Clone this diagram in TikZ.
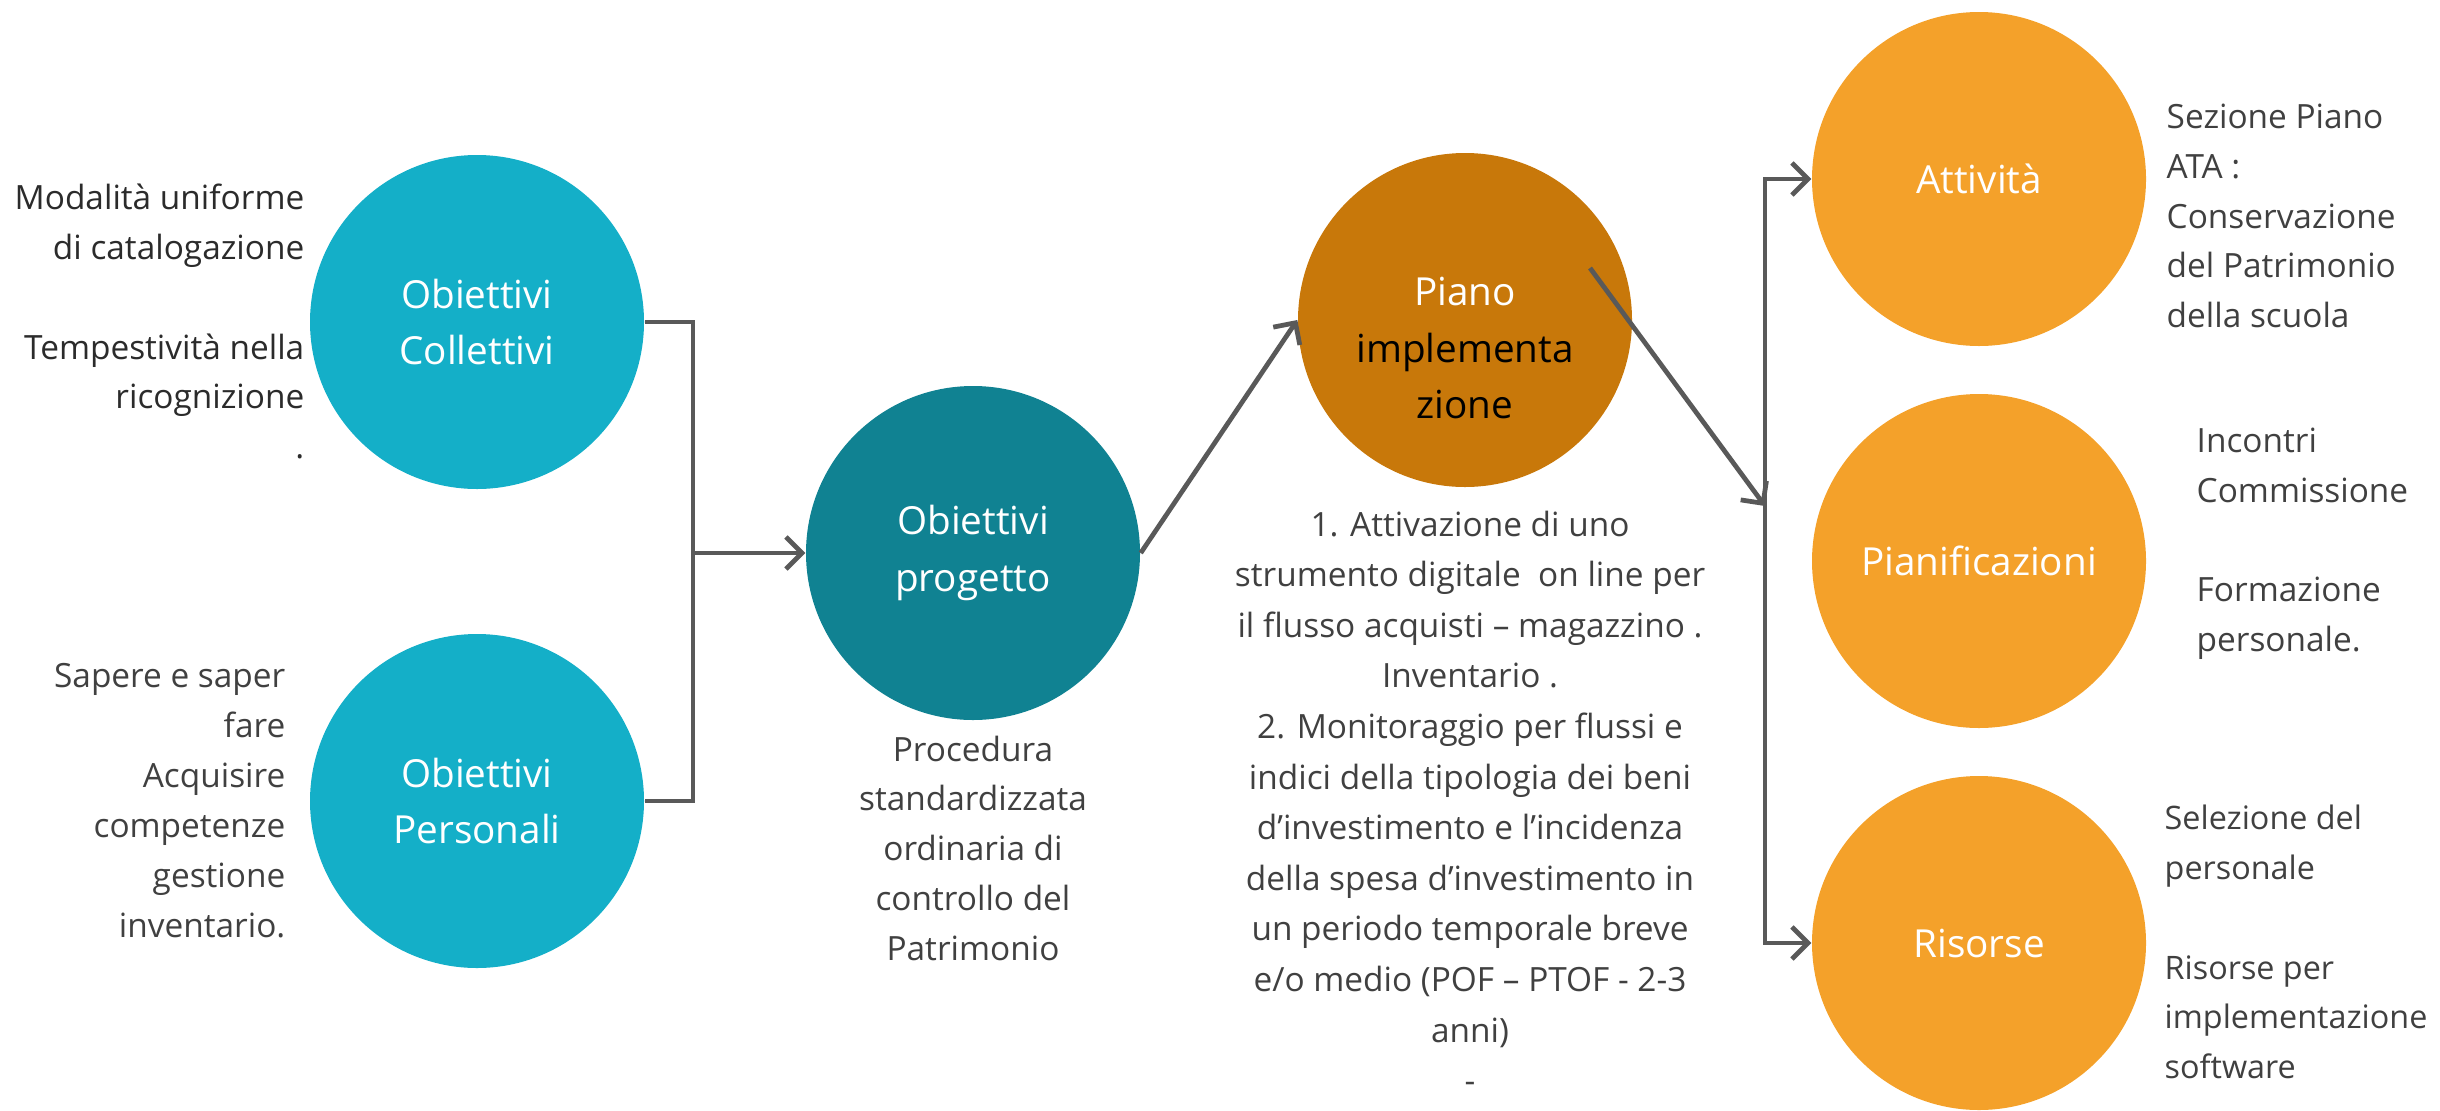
\documentclass[tikz,border=0pt]{standalone}
\usepackage{fontspec}
\setmainfont{Open Sans}
\usepackage{tikz}
\usetikzlibrary{arrows.meta, positioning}

\definecolor{cyanobj}{HTML}{14AFC8}
\definecolor{tealobj}{HTML}{108292}
\definecolor{darkorg}{HTML}{C8780A}
\definecolor{lightorg}{HTML}{F4A12A}
\definecolor{linegray}{HTML}{595959}
\definecolor{txtgray}{HTML}{404040}
\definecolor{txtdark}{HTML}{2B2B2B}

\begin{document}
\begin{tikzpicture}[
    >={Straight Barb[length=1.6mm,width=3.2mm]},
    bubble/.style={circle, minimum size=3.34cm, inner sep=0pt, align=center,
        text=white, font=\fontsize{11}{16.2}\selectfont},
    side/.style={inner sep=0pt, text=txtgray, font=\fontsize{9.5}{14.2}\selectfont},
    link/.style={draw=linegray, line width=1.35pt}
]
    \useasboundingbox (0,0) rectangle (24.4,11.1);

    % Circles
    \node[bubble, fill=cyanobj] (coll) at (4.77,7.88) {Obiettivi\\Collettivi};
    \node[bubble, fill=cyanobj] (pers) at (4.77,3.09) {Obiettivi\\Personali};
    \node[bubble, fill=tealobj] (proj) at (9.73,5.57) {Obiettivi\\progetto};
    \node[bubble, fill=darkorg] (piano) at (14.65,7.90) {};
    \node[inner sep=0pt, align=center, text=black, font=\fontsize{11}{16.2}\selectfont]
        (pianolbl) at ([yshift=-0.28cm]piano.center) {\textcolor{white}{Piano}\\implementa\\zione};
    \node[bubble, fill=lightorg] (att) at (19.79,9.31) {Attività};
    \node[bubble, fill=lightorg] (pian) at (19.79,5.49) {Pianificazioni};
    \node[bubble, fill=lightorg] (ris) at (19.79,1.67) {Risorse};

    % Side texts
    \node[side, text=txtdark, anchor=north east, align=right] (colltxt) at (3.05,9.27)
        {Modalità uniforme\\di catalogazione\\[14.2pt]Tempestività nella\\ricognizione\\.};
    \node[side, anchor=north east, align=right] (perstxt) at (2.86,4.47)
        {Sapere e saper\\fare\\Acquisire\\competenze\\gestione\\inventario.};
    \node[side, anchor=north, align=center] (projtxt) at (9.73,3.75)
        {Procedura\\standardizzata\\ordinaria di\\controllo del\\Patrimonio};
    \node[side, anchor=north, align=center, font=\fontsize{9.5}{14.4}\selectfont] (pianodesc) at (14.70,6.00)
        {1. Attivazione di uno\\strumento digitale\ \ on line per\\il flusso acquisti – magazzino .\\Inventario .\\2. Monitoraggio per flussi e\\indici della tipologia dei beni\\d’investimento e l’incidenza\\della spesa d’investimento in\\un periodo temporale breve\\e/o medio (POF – PTOF - 2-3\\anni)\\-};
    \node[side, anchor=north west, align=left] (atttxt) at (21.66,10.07)
        {Sezione Piano\\ATA :\\Conservazione\\del Patrimonio\\della scuola};
    \node[side, anchor=north west, align=left] (piantxt) at (21.96,6.83)
        {Incontri\\Commissione\\[14.2pt]Formazione\\personale.};
    \node[side, anchor=north west, align=left, font=\fontsize{9.2}{14.2}\selectfont] (ristxt) at (21.64,3.06)
        {Selezione del\\personale\\[14.2pt]Risorse per\\implementazione\\software};

    % Left bracket
    \coordinate (jl) at (6.93,5.57);
    \draw[link] (coll.east) -| (jl) |- (pers.east);
    \draw[link, ->] (jl) -- (proj.west);

    % Towards the plan
    \draw[link, ->] (proj.east) -- (piano.west);

    % Right bracket
    \coordinate (pout) at ([shift={(1.25,0.52)}]piano.center);
    \coordinate (jr) at (17.65,6.04);
    \draw[link, ->] (pout) -- (jr);
    \draw[link, <->] (att.west) -- (att.west -| jr) -- (ris.west -| jr) -- (ris.west);
\end{tikzpicture}
\end{document}
